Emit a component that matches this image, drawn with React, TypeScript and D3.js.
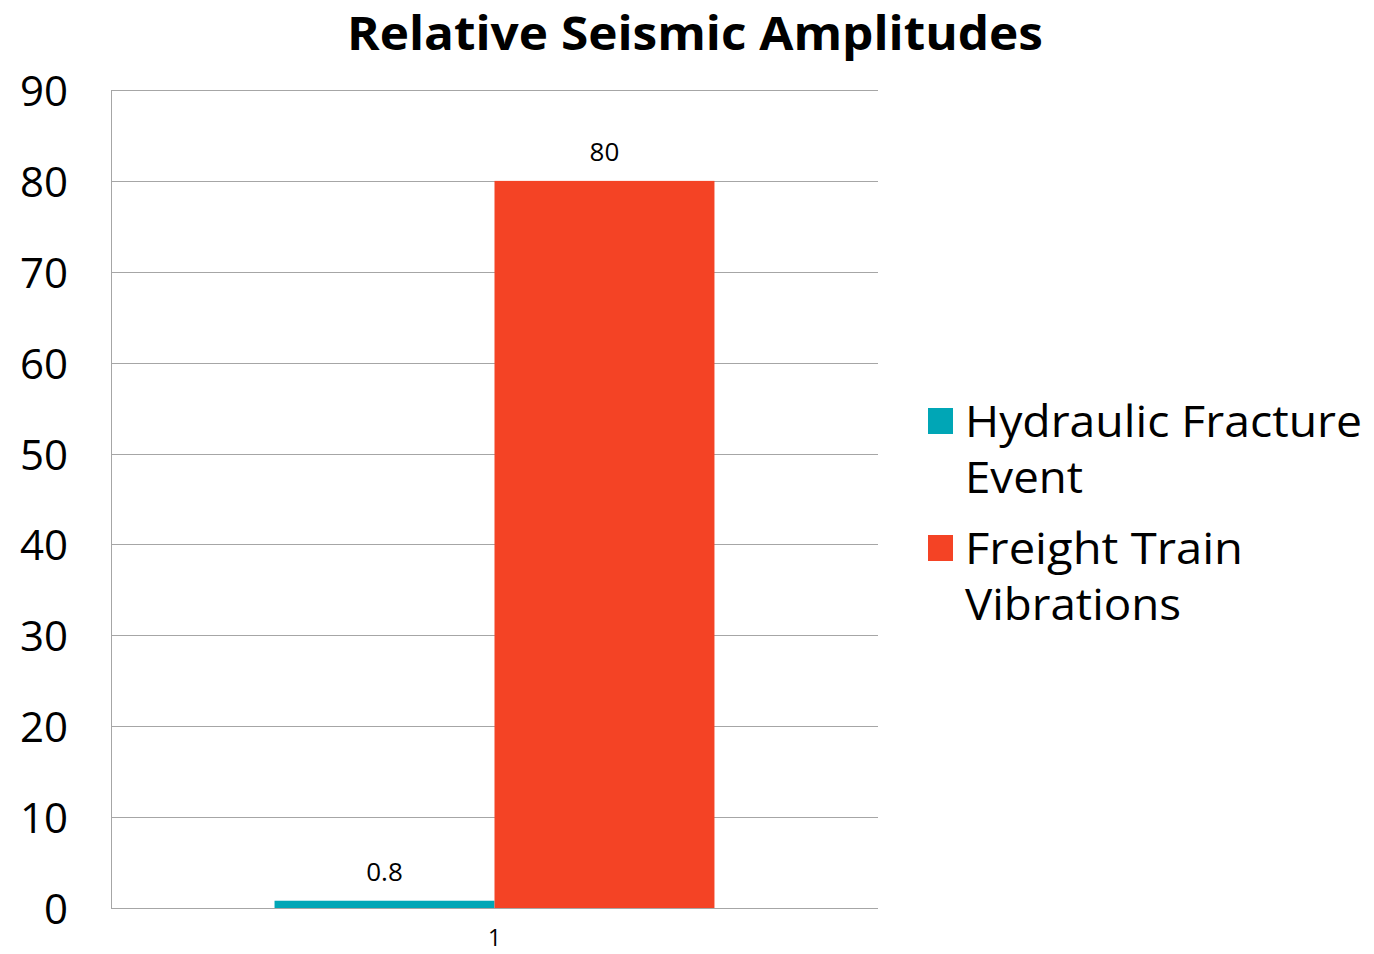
import * as d3 from "d3";
import { useEffect, useRef } from "react";

const categories = ["1"];
const seriesNames = ["Hydraulic Fracture Event", "Freight Train Vibrations"];
const legendLines = [
  ["Hydraulic Fracture", "Event"],
  ["Freight Train", "Vibrations"],
];
const hydraulicValues = [0.8];
const freightValues = [80];
const yTicks = [0, 10, 20, 30, 40, 50, 60, 70, 80, 90];
const colors = ["#00a6b6", "#f44325"];

const FONT = "'Open Sans', 'Noto Sans', sans-serif";

export default function App(): JSX.Element {
  const svgRef = useRef<SVGSVGElement>(null);

  useEffect(() => {
    if (!svgRef.current) return;
    const width = 1374;
    const height = 954;
    const margin = { top: 90, right: 496, bottom: 46, left: 111 };

    const svg = d3.select(svgRef.current);
    svg.selectAll("*").remove();
    svg.attr("width", width).attr("height", height);

    const x = d3
      .scaleBand()
      .domain(categories)
      .range([margin.left, width - margin.right])
      .paddingInner(0)
      .paddingOuter(0);

    const inner = d3
      .scaleBand()
      .domain(seriesNames)
      .range([0, x.bandwidth()])
      .paddingOuter(0.7435)
      .paddingInner(0);

    const y = d3
      .scaleLinear()
      .domain([0, 90])
      .range([height - margin.bottom, margin.top]);

    // grid
    svg
      .append("g")
      .selectAll("line")
      .data(yTicks)
      .join("line")
      .attr("x1", margin.left)
      .attr("x2", width - margin.right)
      .attr("y1", (d) => Math.round(y(d)) + 0.5)
      .attr("y2", (d) => Math.round(y(d)) + 0.5)
      .attr("stroke", "#a6a6a6")
      .attr("stroke-width", 1);

    // left axis line
    svg
      .append("line")
      .attr("x1", margin.left + 0.5)
      .attr("x2", margin.left + 0.5)
      .attr("y1", y(90))
      .attr("y2", y(0))
      .attr("stroke", "#a6a6a6");

    // y labels
    svg
      .append("g")
      .selectAll("text")
      .data(yTicks)
      .join("text")
      .attr("x", 68)
      .attr("y", (d) => y(d) + 16)
      .attr("text-anchor", "end")
      .attr("font-family", FONT)
      .attr("font-size", 42)
      .attr("fill", "#000")
      .text((d) => d);

    // x labels
    svg
      .append("g")
      .selectAll("text")
      .data(categories)
      .join("text")
      .attr("x", (d) => x(d)! + x.bandwidth() / 2)
      .attr("y", 946)
      .attr("text-anchor", "middle")
      .attr("font-family", FONT)
      .attr("font-size", 23)
      .attr("fill", "#000")
      .text((d) => d);

    const allValues = [hydraulicValues, freightValues];

    categories.forEach((c, ci) => {
      allValues.forEach((vals, si) => {
        const v = vals[ci];
        const bx = x(c)! + inner(seriesNames[si])!;
        svg
          .append("rect")
          .attr("x", bx)
          .attr("y", y(v))
          .attr("width", inner.bandwidth())
          .attr("height", y(0) - y(v))
          .attr("fill", colors[si]);
        svg
          .append("text")
          .attr("x", bx + inner.bandwidth() / 2)
          .attr("y", y(v) - 20)
          .attr("text-anchor", "middle")
          .attr("font-family", FONT)
          .attr("font-size", 26)
          .attr("fill", "#000")
          .text(String(v));
      });
    });

    // title
    svg
      .append("text")
      .attr("x", 695)
      .attr("y", 50)
      .attr("text-anchor", "middle")
      .attr("font-family", FONT)
      .attr("font-weight", "bold")
      .attr("font-size", 46)
      .attr("textLength", 696)
      .attr("lengthAdjust", "spacingAndGlyphs")
      .attr("fill", "#000")
      .text("Relative Seismic Amplitudes");

    // legend
    const legendTop = [408, 535];
    const lineWidths = [
      [397, 118],
      [278, 216],
    ];
    seriesNames.forEach((_, si) => {
      const g = svg.append("g");
      g.append("rect")
        .attr("x", 928)
        .attr("y", legendTop[si])
        .attr("width", 25)
        .attr("height", 26)
        .attr("fill", colors[si]);
      legendLines[si].forEach((line, li) => {
        g.append("text")
          .attr("x", 965)
          .attr("y", legendTop[si] + 29 + li * 56)
          .attr("font-family", FONT)
          .attr("font-size", 44)
          .attr("textLength", lineWidths[si][li])
          .attr("lengthAdjust", "spacingAndGlyphs")
          .attr("fill", "#000")
          .text(line);
      });
    });
  }, []);

  return (
    <div style={{ margin: -8 }}>
      <svg ref={svgRef} style={{ display: "block" }} />
    </div>
  );
}
